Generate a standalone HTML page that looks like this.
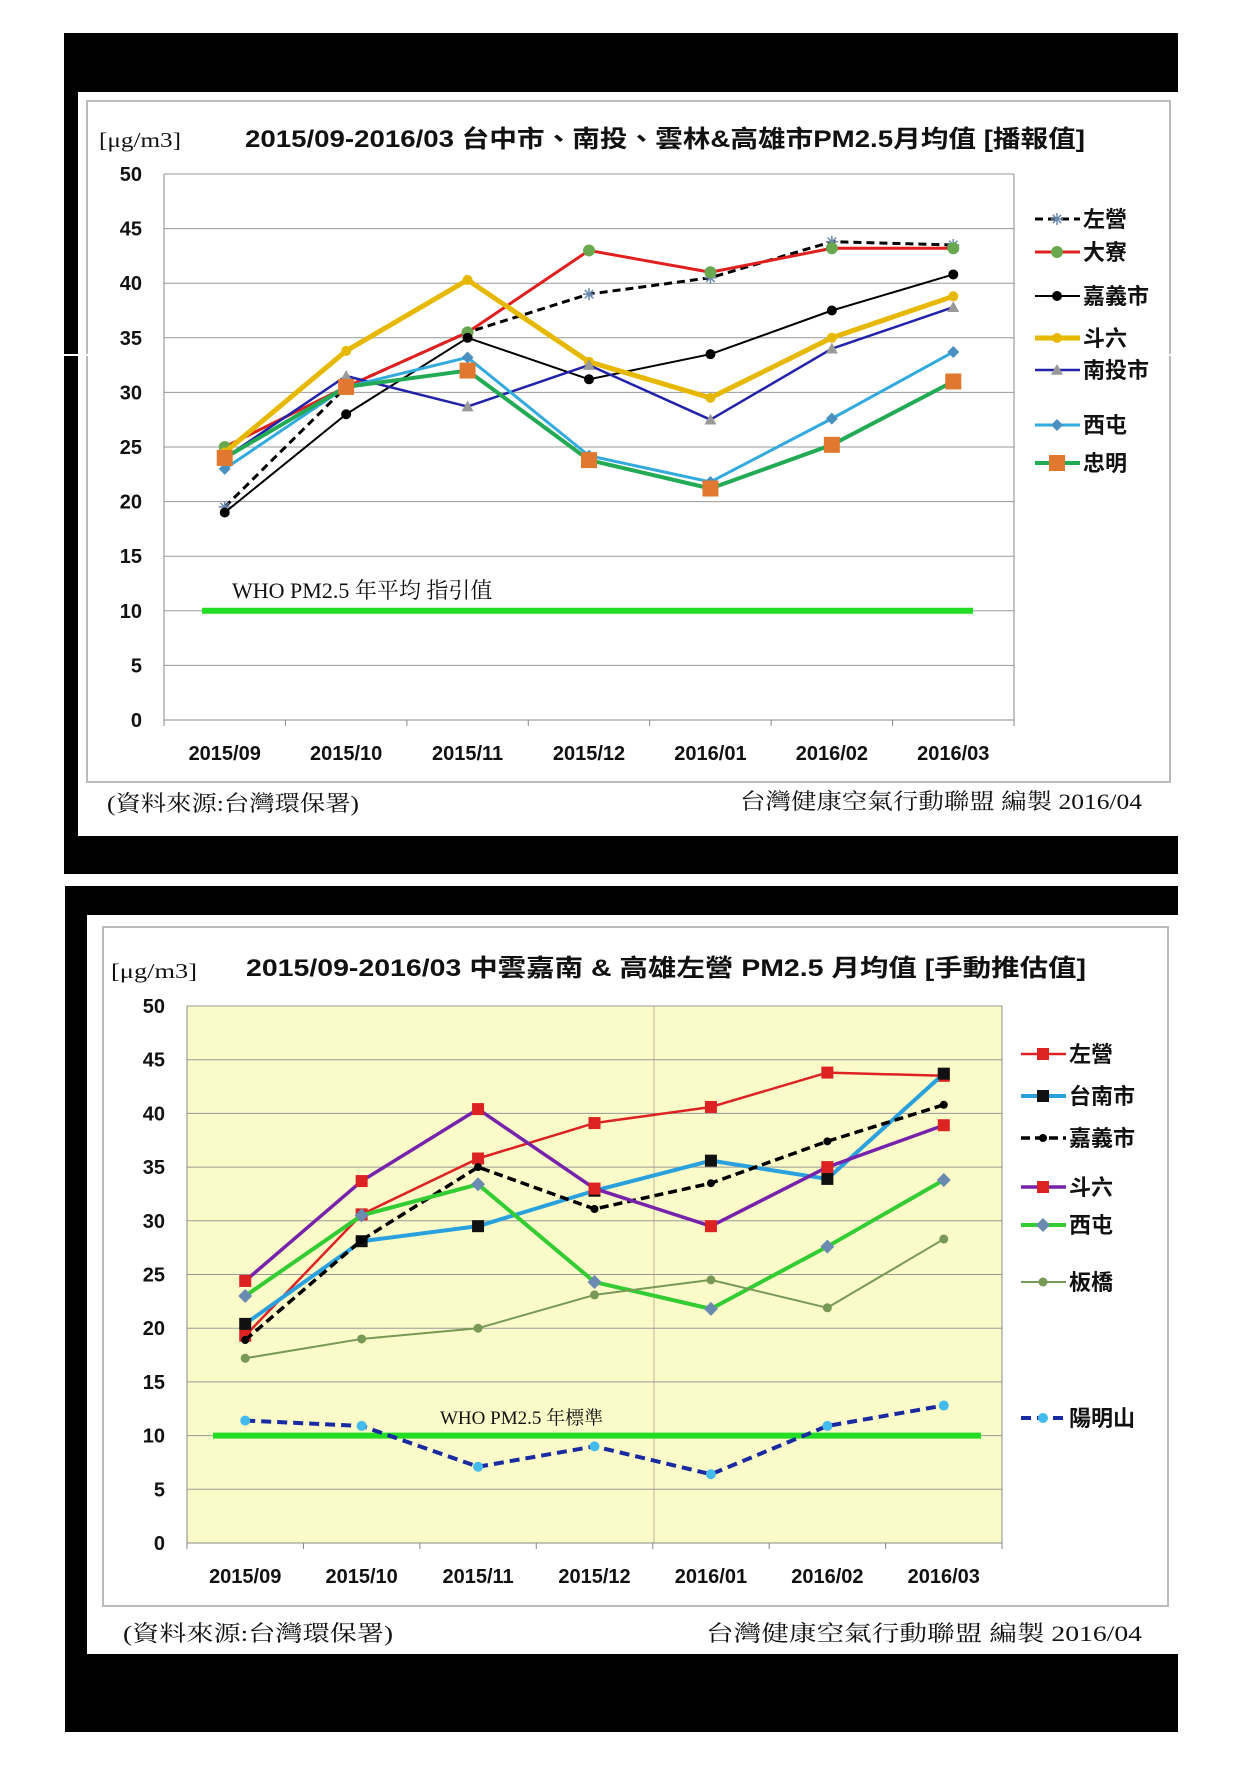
<!DOCTYPE html>
<html><head><meta charset="utf-8">
<style>
html,body{margin:0;padding:0;background:#fff;}
svg{display:block;}
text{font-family:"Liberation Sans","Noto Sans CJK TC",sans-serif;}
.t{font-weight:bold;fill:#111;}
.s{font-family:"Liberation Serif","Noto Serif CJK SC","Noto Sans CJK TC",serif;fill:#111;}
</style></head>
<body>
<svg id="s" width="1241" height="1766" xmlns="http://www.w3.org/2000/svg">
<rect x="64" y="33" width="1114" height="841" fill="#000"/>
<rect x="78" y="92" width="1100" height="744" fill="#fff"/>
<rect x="87" y="101" width="1083" height="681" fill="none" stroke="#bbb" stroke-width="2"/>
<rect x="0" y="354" width="1241" height="2" fill="#fff"/>
<rect x="65" y="886" width="1113" height="846" fill="#000"/>
<rect x="87" y="915" width="1091" height="739" fill="#fff"/>
<rect x="103" y="927" width="1065" height="679" fill="none" stroke="#bbb" stroke-width="2"/>
<rect x="187" y="1006" width="815" height="537" fill="#fbfbc9"/>
<line x1="654" y1="1006" x2="654" y2="1543" stroke="#e0d8b0" stroke-width="2"/>
<g id="g"></g>
</svg>
<script>
const NS="http://www.w3.org/2000/svg";
const g=document.getElementById('g');
function el(t,a,txt){const e=document.createElementNS(NS,t);for(const k in a)e.setAttribute(k,a[k]);if(txt!==undefined)e.textContent=txt;g.appendChild(e);return e;}
const months=["2015/09","2015/10","2015/11","2015/12","2016/01","2016/02","2016/03"];
function marker(type,x,y,c,sz){
 if(type=='circle')el('circle',{cx:x,cy:y,r:sz,fill:c});
 else if(type=='square')el('rect',{x:x-sz,y:y-sz,width:2*sz,height:2*sz,fill:c});
 else if(type=='diamond')el('polygon',{points:`${x},${y-sz} ${x+sz},${y} ${x},${y+sz} ${x-sz},${y}`,fill:c});
 else if(type=='tri')el('polygon',{points:`${x},${y-sz} ${x+sz},${y+sz*0.8} ${x-sz},${y+sz*0.8}`,fill:c});
 else if(type=='star'){el('path',{d:`M${x-sz} ${y}H${x+sz}M${x} ${y-sz}V${y+sz}M${x-sz*.7} ${y-sz*.7}L${x+sz*.7} ${y+sz*.7}M${x-sz*.7} ${y+sz*.7}L${x+sz*.7} ${y-sz*.7}`,stroke:c,'stroke-width':1.5});}
}
function chart(o){
 const {x0,x1,y0,y1}=o; const h=(y1-y0)/50; const cw=(x1-x0)/7;
 const Y=v=>y1-v*h, X=i=>x0+cw*(i+0.5);
 for(let v=5;v<=50;v+=5)el('line',{x1:x0,y1:Y(v),x2:x1,y2:Y(v),stroke:'#999','stroke-width':1});
 el('line',{x1:x0,y1:y0,x2:x0,y2:y1,stroke:'#888'});
 el('line',{x1:x1,y1:y0,x2:x1,y2:y1,stroke:'#888'});
 el('line',{x1:x0,y1:y1,x2:x1,y2:y1,stroke:'#888'});
 for(let i=0;i<=7;i++)el('line',{x1:x0+cw*i,y1:y1,x2:x0+cw*i,y2:y1+6,stroke:'#888'});
 for(let v=0;v<=50;v+=5)el('text',{x:x0-22,y:Y(v)+7,'text-anchor':'end','font-size':20,class:'t'},v);
 months.forEach((m,i)=>el('text',{x:X(i),y:o.xl,'text-anchor':'middle','font-size':20,class:'t'},m));
 el('line',{x1:o.who[0],y1:Y(10),x2:o.who[1],y2:Y(10),stroke:'#22dd22','stroke-width':6});
 el('text',{x:o.wt[0],y:o.wt[1],'font-size':o.wt[3],class:'s'},o.wt[2]);
 o.series.forEach((s,k)=>{
  const pts=s.d.map((v,i)=>X(i)+','+Y(v)).join(' ');
  const a={points:pts,fill:'none',stroke:s.c,'stroke-width':s.w,'stroke-linejoin':'round'};
  if(s.dash)a['stroke-dasharray']=s.dash;
  el('polyline',a);
  s.d.forEach((v,i)=>marker(s.m,X(i),Y(v),s.mc,s.ms));
  const ly=o.leg[1][k];
  const la={x1:o.leg[0],y1:ly,x2:o.leg[0]+45,y2:ly,stroke:s.c,'stroke-width':s.w};
  if(s.dash)la['stroke-dasharray']=s.dash;
  el('line',la);
  marker(s.m,o.leg[0]+22,ly,s.mc,s.ms);
  el('text',{x:o.leg[0]+48,y:ly+8,'font-size':22,class:'t'},s.n);
 });
}
// top
el('text',{x:99,y:147,'font-size':21,class:'s',textLength:82,lengthAdjust:'spacingAndGlyphs'},'[μg/m3]');
el('text',{x:245,y:147,'font-size':24,class:'t',textLength:840,lengthAdjust:'spacingAndGlyphs'},'2015/09-2016/03 台中市、南投、雲林&高雄市PM2.5月均值  [播報值]');
el('text',{x:107,y:811,'font-size':22,class:'s',textLength:252,lengthAdjust:'spacingAndGlyphs'},'(資料來源:台灣環保署)');
el('text',{x:740,y:809,'font-size':22,class:'s',textLength:402,lengthAdjust:'spacingAndGlyphs'},'台灣健康空氣行動聯盟 編製 2016/04');
chart({x0:164,x1:1014,y0:174,y1:720,xl:760,who:[202,973],wt:[232,598,'WHO  PM2.5 年平均 指引值',22],
 leg:[1035,[219,252,296,338,370,425,463]],
 series:[
 {n:'左營',d:[19.5,30.5,35.5,39,40.5,43.8,43.5],c:'#000',w:3,dash:'8,5',m:'star',mc:'#6a8ab0',ms:6},
 {n:'大寮',d:[25,30.5,35.5,43,41,43.2,43.2],c:'#e02020',w:3,m:'circle',mc:'#6aa84f',ms:6},
 {n:'嘉義市',d:[19,28,35,31.2,33.5,37.5,40.8],c:'#000',w:2,m:'circle',mc:'#000',ms:5},
 {n:'斗六',d:[24.5,33.8,40.3,32.8,29.5,35,38.8],c:'#e6b800',w:5,m:'circle',mc:'#e6b800',ms:5},
 {n:'南投市',d:[24,31.5,28.7,32.5,27.5,34,37.8],c:'#2222aa',w:2.5,m:'tri',mc:'#999',ms:6},
 {n:'西屯',d:[23,30.5,33.2,24.2,21.8,27.6,33.7],c:'#33aadd',w:3,m:'diamond',mc:'#4a90c0',ms:6},
 {n:'忠明',d:[24,30.5,32,23.8,21.2,25.2,31],c:'#22aa55',w:4,m:'square',mc:'#e07830',ms:8}
 ]});
// bottom
el('text',{x:111,y:978,'font-size':21,class:'s',textLength:86,lengthAdjust:'spacingAndGlyphs'},'[μg/m3]');
el('text',{x:246,y:976,'font-size':24,class:'t',textLength:840,lengthAdjust:'spacingAndGlyphs'},'2015/09-2016/03 中雲嘉南 & 高雄左營 PM2.5 月均值 [手動推估值]');
el('text',{x:123,y:1641,'font-size':22,class:'s',textLength:270,lengthAdjust:'spacingAndGlyphs'},'(資料來源:台灣環保署)');
el('text',{x:706,y:1641,'font-size':22,class:'s',textLength:436,lengthAdjust:'spacingAndGlyphs'},'台灣健康空氣行動聯盟 編製 2016/04');
chart({x0:187,x1:1002,y0:1006,y1:1543,xl:1583,who:[213,981],wt:[440,1424,'WHO PM2.5 年標準',19],
 leg:[1021,[1054,1096,1138,1187,1225,1282,1418]],
 series:[
 {n:'左營',d:[19.3,30.6,35.8,39.1,40.6,43.8,43.5],c:'#dd2222',w:2.5,m:'square',mc:'#dd2222',ms:6},
 {n:'台南市',d:[20.4,28.1,29.5,32.8,35.6,33.9,43.7],c:'#2aa0dd',w:4,m:'square',mc:'#111',ms:6},
 {n:'嘉義市',d:[18.9,28.2,35,31.1,33.5,37.4,40.8],c:'#000',w:3.5,dash:'9,5',m:'circle',mc:'#000',ms:4},
 {n:'斗六',d:[24.4,33.7,40.4,33,29.5,35,38.9],c:'#7722aa',w:3.5,m:'square',mc:'#dd2222',ms:6},
 {n:'西屯',d:[23,30.5,33.4,24.3,21.8,27.6,33.8],c:'#33cc33',w:4,m:'diamond',mc:'#6a8ab0',ms:7},
 {n:'板橋',d:[17.2,19,20,23.1,24.5,21.9,28.3],c:'#779955',w:2,m:'circle',mc:'#779955',ms:4.5},
 {n:'陽明山',d:[11.4,10.9,7.1,9,6.4,10.9,12.8],c:'#1a2aa0',w:4,dash:'10,6',m:'circle',mc:'#44bbee',ms:5}
 ]});
</script>
</body></html>
